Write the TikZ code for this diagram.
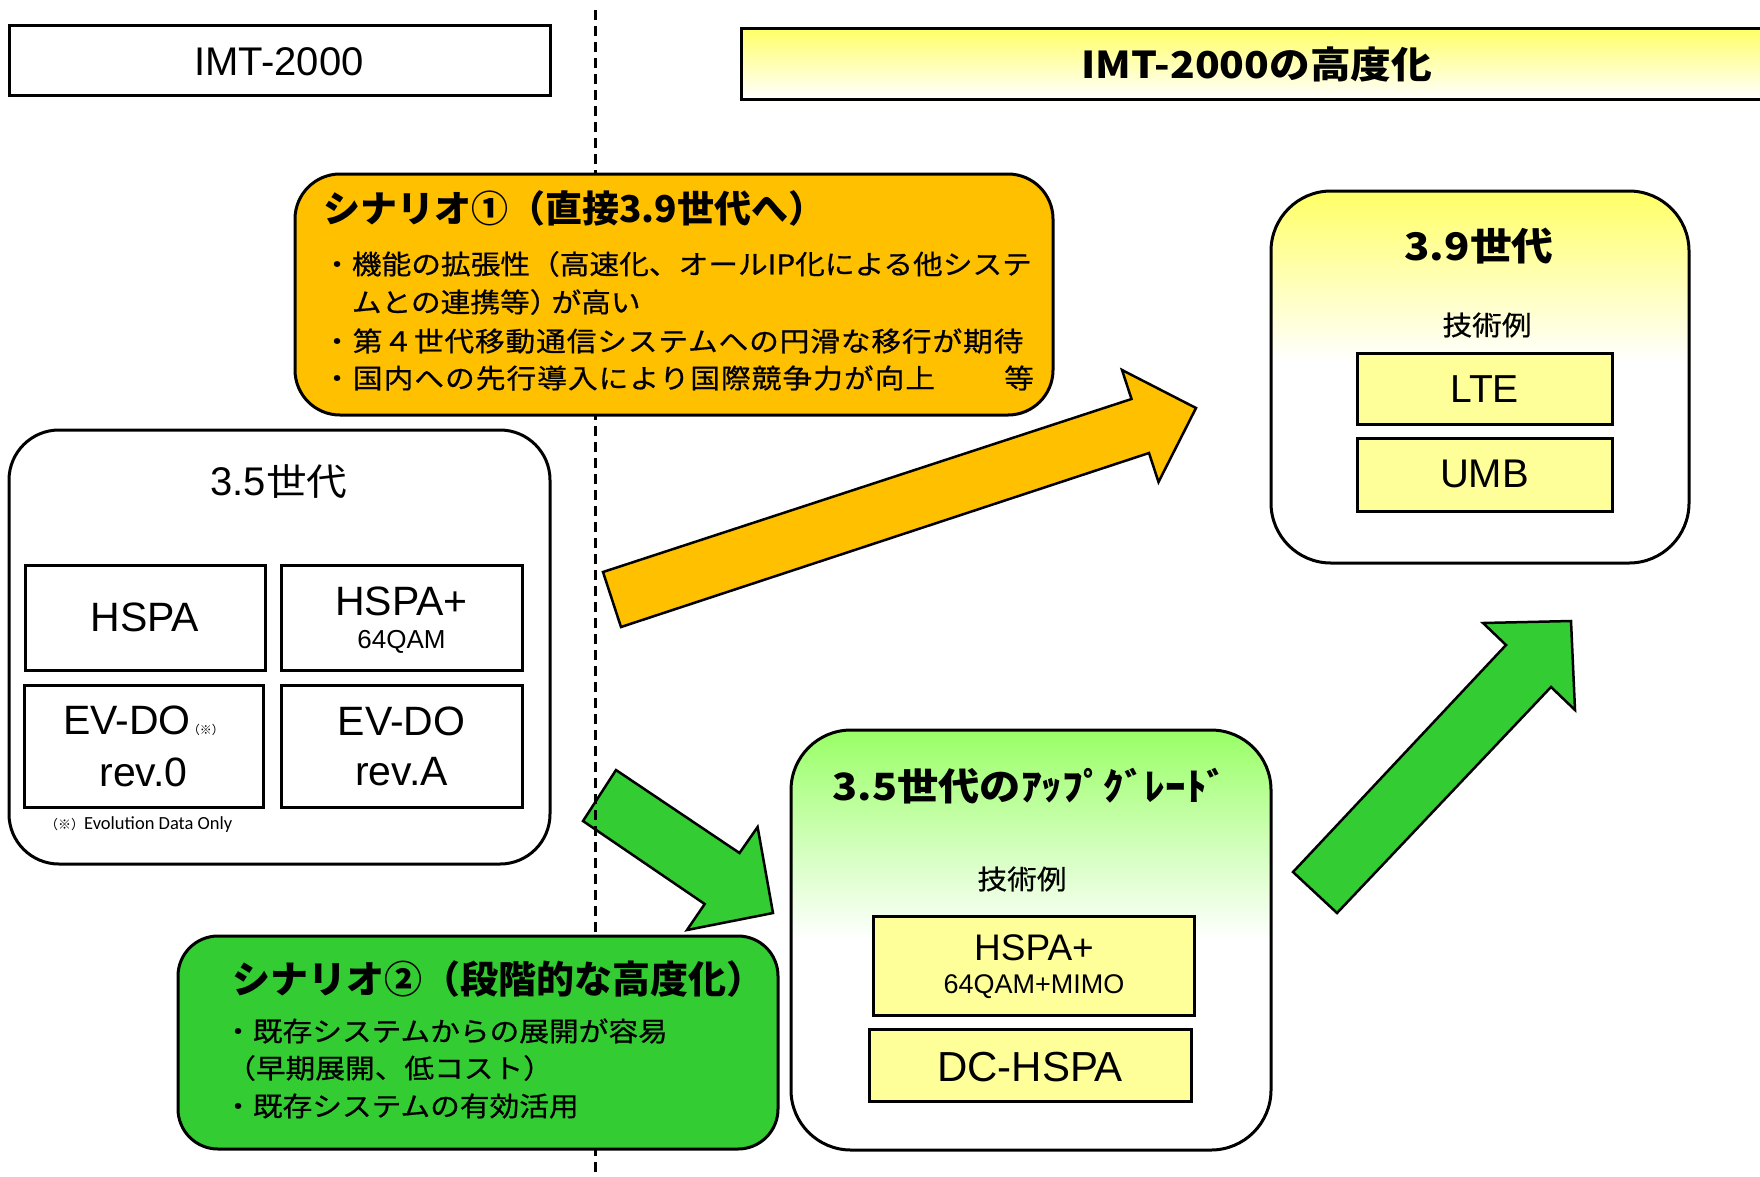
\documentclass[tikz,border=0pt]{standalone}
\usepackage{fontspec}
\setmainfont{Liberation Sans}
\newfontfamily\jpn{Noto Sans CJK JP}
\newfontfamily\jpw{Noto Sans CJK JP}[FakeStretch=1.1]
\newfontfamily\jpm{Noto Sans CJK JP}[FakeStretch=1.1, FakeBold=0.6]
\newfontfamily\evo{Carlito}
\newcommand\setfs[1]{\fontsize{#1}{#1}\selectfont}
\definecolor{orng}{HTML}{FFC000}
\definecolor{grn}{HTML}{33CC33}
\definecolor{ltyel}{HTML}{FFFF99}
\definecolor{yel}{HTML}{FFFF66}
\definecolor{ltgrn}{HTML}{99FF66}
\pgfdeclareverticalshading{fadeyel}{100bp}{color(0bp)=(white); color(52bp)=(white); color(75bp)=(yel); color(100bp)=(yel)}
\pgfdeclareverticalshading{fadegrn}{100bp}{color(0bp)=(white); color(50bp)=(white); color(75bp)=(ltgrn); color(100bp)=(ltgrn)}
\tikzset{
  frame/.style={draw=black, line width=3pt, inner sep=0pt},
  whbox/.style={frame, fill=white},
  techbox/.style={frame, fill=ltyel},
  rbox/.style={frame, rounded corners=#1},
  txt/.style={inner sep=0pt, align=center},
  ltxt/.style={inner sep=0pt, anchor=west},
  body/.style={ltxt, font=\jpm\setfs{27}},
  blockarrow/.style={draw=black, line width=2.5pt, line join=miter},
  divider/.style={draw=black, line width=3pt, dash pattern=on 10pt off 6pt},
}
\begin{document}
\begin{tikzpicture}[x=1pt, y=-1pt]
\useasboundingbox (0,0) rectangle (1760,1176);
\fill[white] (0,0) rectangle (1760,1176);

% ---------- block arrows ----------
\coordinate (oa1) at (603,572);
\coordinate (oa2) at (1131.5,399);
\coordinate (oa3) at (1122,370);
\coordinate (oa4) at (1196,408);
\coordinate (oa5) at (1158.5,482);
\coordinate (oa6) at (1149,453);
\coordinate (oa7) at (621,627);
\draw[blockarrow, fill=orng] (oa1) -- (oa2) -- (oa3) -- (oa4) -- (oa5) -- (oa6) -- (oa7) -- cycle;

\coordinate (ga1) at (616,770);
\coordinate (ga2) at (739.5,853);
\coordinate (ga3) at (757.6,827);
\coordinate (ga4) at (773,913);
\coordinate (ga5) at (687,930);
\coordinate (ga6) at (704.7,904);
\coordinate (ga7) at (583,821);
\draw[blockarrow, fill=grn] (ga1) -- (ga2) -- (ga3) -- (ga4) -- (ga5) -- (ga6) -- (ga7) -- cycle;

\coordinate (gb1) at (1293,872);
\coordinate (gb2) at (1506,645);
\coordinate (gb3) at (1483,623);
\coordinate (gb4) at (1571,621);
\coordinate (gb5) at (1575,710);
\coordinate (gb6) at (1551,687);
\coordinate (gb7) at (1337,913);
\draw[blockarrow, fill=grn] (gb1) -- (gb2) -- (gb3) -- (gb4) -- (gb5) -- (gb6) -- (gb7) -- cycle;

% ---------- dashed divider ----------
\coordinate (dtop) at (595,10);
\coordinate (dbot) at (595,1176);
\draw[divider] (dtop) -- (dbot);

% ---------- headers ----------
\node[whbox, minimum width=541, minimum height=70] (hdrL) at (279.5,60) {};
\node[txt, font=\setfs{40}] (hdrLt) at (279,62) {IMT-2000};
\node[frame, top color=yel, bottom color=white, minimum width=1049, minimum height=71] (hdrR) at (1265.5,63.5) {};
\node[txt, font=\jpw\bfseries\setfs{37}] (hdrRt) at (1257,64) {IMT-2000の高度化};

% ---------- scenario 1 ----------
\node[rbox=45, fill=orng, minimum width=758, minimum height=241] (sc1) at (674,294.5) {};
\node[ltxt, font=\jpn\bfseries\setfs{37}] (sc1t) at (323,208) {シナリオ①（直接3.9世代へ）};
\node[body] (sc1a) at (322,264) {・機能の拡張性（高速化、オールIP化による他システ};
\node[body] (sc1b) at (322,302) {\phantom{・}ムとの連携等）\hspace{-8pt}が高い};
\node[body] (sc1c) at (322,341) {\addfontfeature{LetterSpace=3.2}・第４世代移動通信システムへの円滑な移行が期待};
\node[body] (sc1d) at (322,378) {\addfontfeature{LetterSpace=3.8}・国内への先行導入により国際競争力が向上};
\node[txt, font=\jpm\setfs{27}] (sc1e) at (1019,378) {等};

% ---------- 3.5 generation ----------
\node[rbox=50, fill=white, minimum width=541, minimum height=434] (g35) at (279.5,647) {};
\node[txt, font=\setfs{40}] (g35t) at (279,482) {3.5{\jpw\setfs{37}世代}};
\node[whbox, minimum width=240, minimum height=105] (hspa) at (145,617.5) {};
\node[txt, font=\setfs{41}] (hspat) at (145,617.5) {HSPA};
\node[whbox, minimum width=241, minimum height=105] (hspap) at (401.5,617.5) {};
\node[txt, font=\setfs{41}] (hspapt) at (401.5,601) {HSPA+};
\node[txt, font=\setfs{26}] (hspaps) at (401.5,642) {64QAM};
\node[whbox, minimum width=239, minimum height=122] (evdo0) at (143.5,746) {};
\node[txt, font=\setfs{41}] (evdo0t) at (143.5,721) {EV-DO\hspace{-3pt}{\jpn\setfs{12}（※）}};
\node[txt, font=\setfs{41}] (evdo0r) at (143.5,772) {rev.0};
\node[whbox, minimum width=241, minimum height=122] (evdoA) at (401.5,746) {};
\node[txt, font=\setfs{41}] (evdoAt) at (401.5,721) {EV-DO};
\node[txt, font=\setfs{41}] (evdoAr) at (401.5,772) {rev.A};
\node[ltxt] (fnote) at (45,825) {{\jpn\setfs{13}（※）}{\evo\setfs{18.5}Evolution Data Only}};

% ---------- 3.9 generation ----------
\node[rbox=60, shade, shading=fadeyel, minimum width=418, minimum height=372] (g39) at (1480,377) {};
\node[txt, font=\jpw\bfseries\setfs{38}] (g39t) at (1479,246) {3.9世代};
\node[txt, font=\jpm\setfs{27}] (g39e) at (1487,325) {技術例};
\node[techbox, minimum width=255, minimum height=71] (lte) at (1484.5,388.5) {};
\node[txt, font=\setfs{39}] (ltet) at (1484.5,389) {LTE};
\node[techbox, minimum width=255, minimum height=73] (umb) at (1484.5,474.5) {};
\node[txt, font=\setfs{40}] (umbt) at (1484.5,474) {UMB};

% ---------- 3.5 upgrade ----------
\node[rbox=60, shade, shading=fadegrn, minimum width=480, minimum height=420] (upg) at (1031,940) {};
\node[txt, font=\jpw\bfseries\setfs{37.5}] (upgt) at (1030,786) {3.5世代のｱｯﾌﾟｸﾞﾚｰﾄﾞ};
\node[txt, font=\jpm\setfs{27}] (upge) at (1022,879) {技術例};
\node[techbox, minimum width=321, minimum height=99] (hspapm) at (1034,965.5) {};
\node[txt, font=\setfs{37}] (hspapmt) at (1034,948) {HSPA+};
\node[txt, font=\setfs{27}] (hspapms) at (1034,987) {64QAM+MIMO};
\node[techbox, minimum width=322, minimum height=72] (dchspa) at (1030,1065) {};
\node[txt, font=\setfs{42}] (dchspat) at (1030,1067) {DC-HSPA};

% ---------- scenario 2 ----------
\node[rbox=40, fill=grn, minimum width=600, minimum height=213] (sc2) at (478,1042.5) {};
\node[ltxt, font=\jpn\bfseries\setfs{38}] (sc2t) at (232,979) {シナリオ②（段階的な高度化）};
\node[body] (sc2a) at (223,1031) {・既存システムからの展開が容易};
\node[body] (sc2b) at (226,1068) {（早期展開、低コスト）};
\node[body] (sc2c) at (223,1106) {・既存システムの有効活用};
\end{tikzpicture}
\end{document}
